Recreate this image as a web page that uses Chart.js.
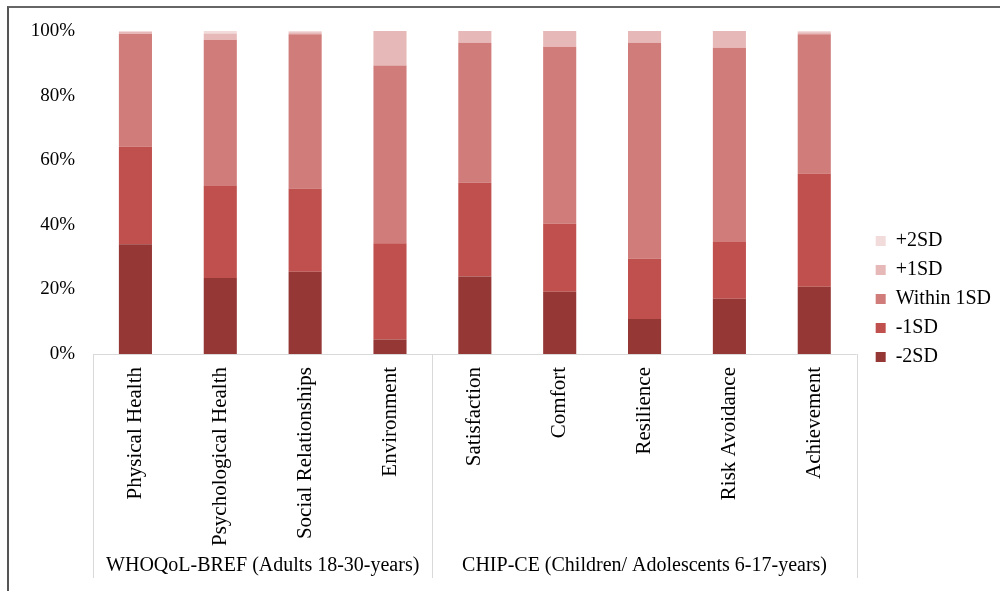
<!DOCTYPE html>
<html>
<head>
<meta charset="utf-8">
<script src="https://cdn.jsdelivr.net/npm/chart.js@4"></script>
<style>
  body { margin: 0; background: #fff; }
  #wrap { position: relative; width: 1000px; height: 591px; }
  #frame { position: absolute; left: 7px; top: 6px; right: 0; bottom: 0; border-left: 2px solid #555; border-top: 2px solid #666; pointer-events: none; }
</style>
</head>
<body>
<div id="wrap">
  <canvas id="chart" width="1000" height="591"></canvas>
  <div id="frame"></div>
</div>
<script>
// categories and groups
const categories = ["Physical Health", "Psychological Health", "Social Relationships", "Environment",
  "Satisfaction", "Comfort", "Resilience", "Risk Avoidance", "Achievement"];
const groupLabels = ["WHOQoL-BREF (Adults 18-30-years)", "CHIP-CE (Children/ Adolescents 6-17-years)"];
const groupSizes = [4, 5];

// percentages per band
const minus2SD = [34, 23.5, 25.5, 4.5, 24, 19.3, 10.8, 17.1, 20.8];
const minus1SD = [30.2, 28.5, 25.7, 29.8, 29, 21, 18.7, 17.6, 35.1];
const within1SD = [34.9, 45.2, 47.8, 55, 43.4, 54.8, 66.9, 60.1, 43.1];
const plus1SD = [0.6, 2.0, 0.6, 10.7, 3.6, 4.9, 3.6, 5.2, 0.6];
const plus2SD = [0.3, 0.8, 0.4, 0, 0, 0, 0, 0, 0.4];

const yTicks = [0, 20, 40, 60, 80, 100];

const font = "'Liberation Serif', 'Times New Roman', serif";
const lineColor = "#d9d9d9";

//Nudge the legend: a bit further from the plot and a bit higher
const legendNudge = {
  id: "legendNudge",
  afterLayout(chart) {
    const lg = chart.legend;
    lg.left += 10; lg.right += 10;
    lg.top -= 12; lg.bottom -= 12;
  }
};

//Group boxes under the axis
const groupBoxes = {
  id: "groupBoxes",
  afterDraw(chart) {
    const ctx = chart.ctx;
    const x = chart.scales.x;
    const area = chart.chartArea;
    const half = (x.getPixelForValue(1) - x.getPixelForValue(0)) / 2;
    const bottom = 578;
    ctx.save();
    ctx.strokeStyle = lineColor;
    ctx.lineWidth = 1;
    ctx.beginPath();
    ctx.moveTo(area.left, area.bottom + 0.5);
    ctx.lineTo(area.right, area.bottom + 0.5);
    ctx.stroke();

    let start = 0;
    const edges = [x.getPixelForValue(0) - half];
    groupSizes.forEach(n => {
      start += n;
      edges.push(x.getPixelForValue(start - 1) + half);
    });
    edges.forEach(px => {
      ctx.beginPath();
      ctx.moveTo(Math.round(px) + 0.5, area.bottom);
      ctx.lineTo(Math.round(px) + 0.5, bottom);
      ctx.stroke();
    });

    ctx.fillStyle = "#000";
    ctx.font = "20px " + font;
    ctx.textAlign = "center";
    ctx.textBaseline = "middle";
    groupLabels.forEach((g, i) => {
      ctx.fillText(g, (edges[i] + edges[i + 1]) / 2, 566);
    });
    ctx.restore();
  }
};

const ctx = document.getElementById("chart").getContext("2d");
new Chart(ctx, {
  type: "bar",
  data: {
    labels: categories,
    datasets: [
      { label: "-2SD", data: minus2SD, backgroundColor: "#953735" },
      { label: "-1SD", data: minus1SD, backgroundColor: "#c0504d" },
      { label: "Within 1SD", data: within1SD, backgroundColor: "#d07c7a" },
      { label: "+1SD", data: plus1SD, backgroundColor: "#e6b9b8" },
      { label: "+2SD", data: plus2SD, backgroundColor: "#f2dcdb" }
    ]
  },
  options: {
    responsive: false,
    animation: false,
    datasets: { bar: { barPercentage: 0.39, categoryPercentage: 1 } },
    layout: { padding: { top: 31, right: 9, left: 0, bottom: 0 } },
    scales: {
      x: {
        stacked: true,
        grid: { display: false },
        border: { display: false },
        ticks: {
          color: "#000",
          font: { family: font, size: 21 },
          minRotation: 90,
          maxRotation: 90,
          autoSkip: false,
          padding: 5
        },
        afterFit(scale) { scale.height = 237; }
      },
      y: {
        stacked: true,
        min: 0,
        max: 100,
        grid: { display: false, drawTicks: false },
        border: { display: false },
        afterBuildTicks(scale) { scale.ticks = yTicks.map(v => ({ value: v })); },
        ticks: {
          color: "#000",
          font: { family: font, size: 19 },
          padding: 18,
          callback: v => v + "%"
        },
        afterFit(scale) { scale.width = 93; }
      }
    },
    plugins: {
      legend: {
        position: "right",
        reverse: true,
        labels: {
          color: "#000",
          font: { family: font, size: 20 },
          boxWidth: 10,
          boxHeight: 10,
          padding: 9
        }
      },
      tooltip: { enabled: false }
    }
  },
  plugins: [groupBoxes, legendNudge]
});
</script>
</body>
</html>
